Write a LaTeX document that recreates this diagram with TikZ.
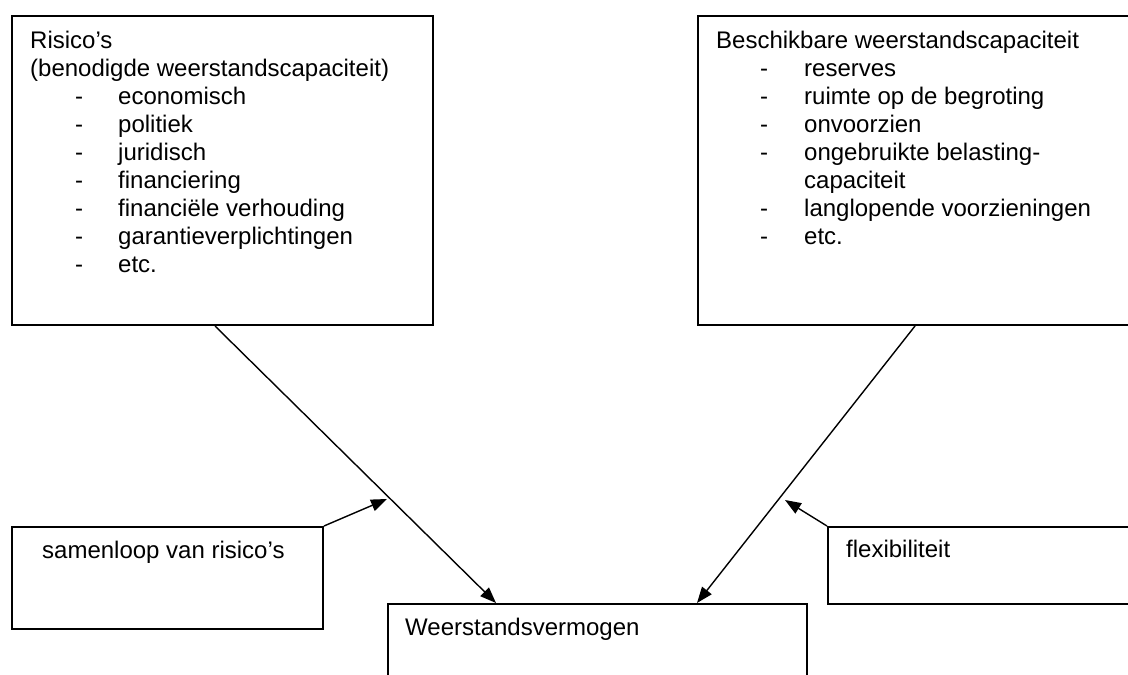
\documentclass[tikz,border=0pt]{standalone}
\usepackage{fontspec}
\setmainfont{Liberation Sans}
\usetikzlibrary{arrows.meta}

\begin{document}
\begin{tikzpicture}[x=1pt, y=-1pt,
    every node/.style={font=\fontsize{24}{28}\selectfont},
    box/.style={draw, rectangle, line width=2pt, inner sep=0pt, anchor=north west},
    txt/.style={inner sep=0pt, anchor=base west},
    arrow/.style={-{Triangle[length=16pt, width=12pt]}, line width=1.4pt}]

    \useasboundingbox (0,0) rectangle (1128,675);

    % Boxes
    \node [box, minimum width=421pt, minimum height=309pt] (risks) at (11,15) {};
    \node [box, minimum width=460pt, minimum height=309pt] (capacity) at (697,15) {};
    \node [box, minimum width=311pt, minimum height=102pt] (samenloop) at (11,526) {};
    \node [box, minimum width=330pt, minimum height=77pt] (flex) at (827,526) {};
    \node [box, minimum width=419pt, minimum height=110pt] (vermogen) at (387,603) {};

    % Texts
    \node [txt] (risks_text) at (30,48) {\begin{tabular}[t]{@{}p{45pt}@{}p{43pt}@{}l@{}}
        \multicolumn{3}{@{}l@{}}{Risico’s}\\
        \multicolumn{3}{@{}l@{}}{(benodigde weerstandscapaciteit)}\\
        & - & economisch\\
        & - & politiek\\
        & - & juridisch\\
        & - & financiering\\
        & - & financiële verhouding\\
        & - & garantieverplichtingen\\
        & - & etc.
    \end{tabular}};
    \node [txt] (capacity_text) at (716,48) {\begin{tabular}[t]{@{}p{44pt}@{}p{44pt}@{}l@{}}
        \multicolumn{3}{@{}l@{}}{Beschikbare weerstandscapaciteit}\\
        & - & reserves\\
        & - & ruimte op de begroting\\
        & - & onvoorzien\\
        & - & ongebruikte belasting-\\
        & & capaciteit\\
        & - & langlopende voorzieningen\\
        & - & etc.
    \end{tabular}};
    \node [txt] (samenloop_text) at (42,558) {samenloop van risico’s};
    \node [txt] (flex_text) at (846,557) {flexibiliteit};
    \node [txt] (vermogen_text) at (405,635) {Weerstandsvermogen};

    \coordinate (samenloop_tip) at (387,499);
    \coordinate (flex_tip) at (785,500);

    % Arrows
    \draw [arrow] ([xshift=204pt]risks.south west) -- ([xshift=109pt]vermogen.north west);
    \draw [arrow] ([xshift=218pt]capacity.south west) -- ([xshift=310pt]vermogen.north west);
    \draw [arrow] (samenloop.north east) -- (samenloop_tip);
    \draw [arrow] (flex.north west) -- (flex_tip);
\end{tikzpicture}
\end{document}
